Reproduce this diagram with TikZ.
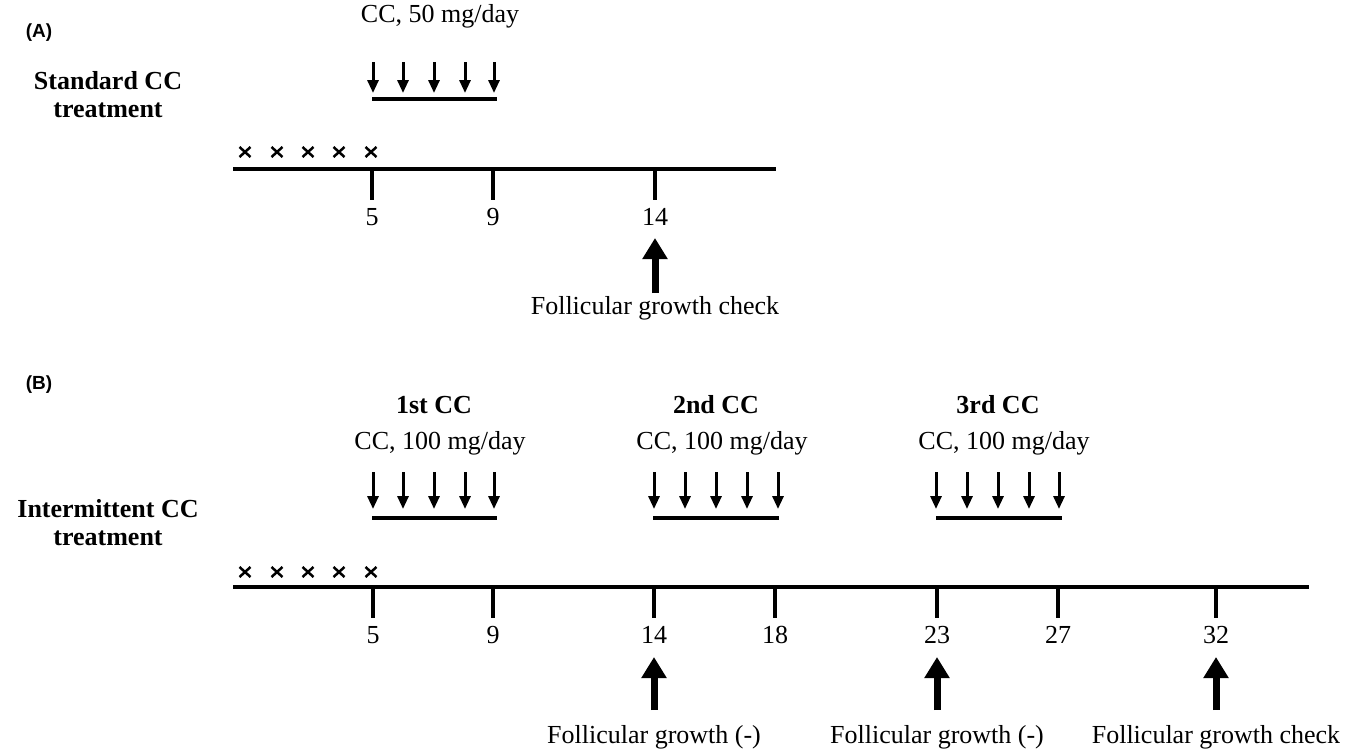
\documentclass[tikz,border=0pt]{standalone}
\usepackage{fontspec}
\setmainfont{Liberation Serif}
\setsansfont{Liberation Sans}
\usetikzlibrary{arrows.meta}
\begin{document}
\begin{tikzpicture}[x=1pt,y=-1pt,
  lbl/.style={font=\fontsize{26}{30}\selectfont, inner sep=0pt},
  blbl/.style={font=\fontsize{26}{30}\selectfont\bfseries, inner sep=0pt, align=center},
  panel/.style={font=\fontsize{19}{22}\selectfont\sffamily\bfseries, inner sep=0pt},
  tline/.style={line width=4.5pt},
  tickline/.style={line width=4pt},
  barline/.style={line width=4pt},
  dosearrow/.style={line width=3pt, -{Triangle[length=13pt,width=11pt]}},
  checkarrow/.style={line width=7pt, -{Triangle[length=21pt,width=24pt]}},
  cross/.style={line width=2.5pt}
]
\useasboundingbox[fill=white] (0,0) rectangle (1362,750);

% ---------------- Panel A ----------------
\node[panel] (pA) at (39,33) {(A)};
\node[blbl] (sA) at (108,95) {Standard CC\\[-2pt]treatment};
\node[lbl] (doseA) at (440,16) {CC, 50 mg/day};
\foreach \x [count=\i] in {373,403,434,465,494} {
  \coordinate (dAs\i) at (\x,62);
  \coordinate (dAe\i) at (\x,93);
  \draw[dosearrow] (dAs\i) -- (dAe\i);
}
\coordinate (barAs) at (372,99);
\coordinate (barAe) at (497,99);
\draw[barline] (barAs) -- (barAe);
\foreach \x [count=\i] in {245,277,308,339,371} {
  \draw[cross] (\x-5.5,147) -- (\x+5.5,157);
  \draw[cross] (\x-5.5,157) -- (\x+5.5,147);
}
\coordinate (tAs) at (233,169);
\coordinate (tAe) at (776,169);
\draw[tline] (tAs) -- (tAe);
\foreach \x/\n in {372/5,493/9,655/14} {
  \coordinate (kA\n) at (\x,169);
  \coordinate (kAb\n) at (\x,200);
  \draw[tickline] (kA\n) -- (kAb\n);
  \node[lbl] (nA\n) at (\x,217) {\n};
}
\coordinate (uAs) at (655,293);
\coordinate (uAe) at (655,238);
\draw[checkarrow] (uAs) -- (uAe);
\node[lbl] (fA) at (655,308) {Follicular growth check};

% ---------------- Panel B ----------------
\node[panel] (pB) at (39,385) {(B)};
\node[blbl] (sB) at (108,523) {Intermittent CC\\[-2pt]treatment};
\foreach \c/\d/\t in {434/440/1st, 716/722/2nd, 998/1004/3rd} {
  \node[blbl] (h\t) at (\c,405) {\t\ CC};
  \node[lbl] (dose\t) at (\d,443) {CC, 100 mg/day};
}
\foreach \x [count=\i] in {373,403,434,465,494, 654,685,716,747,778, 936,967,998,1029,1059} {
  \coordinate (dBs\i) at (\x,472);
  \coordinate (dBe\i) at (\x,509);
  \draw[dosearrow] (dBs\i) -- (dBe\i);
}
\foreach \a/\b [count=\i] in {372/497, 653/779, 936/1062} {
  \coordinate (barBs\i) at (\a,518);
  \coordinate (barBe\i) at (\b,518);
  \draw[barline] (barBs\i) -- (barBe\i);
}
\foreach \x in {245,277,308,339,371} {
  \draw[cross] (\x-5.5,567) -- (\x+5.5,577);
  \draw[cross] (\x-5.5,577) -- (\x+5.5,567);
}
\coordinate (tBs) at (233,587);
\coordinate (tBe) at (1309,587);
\draw[tline] (tBs) -- (tBe);
\foreach \x/\n in {373/5,493/9,654/14,775/18,937/23,1058/27,1216/32} {
  \coordinate (kB\n) at (\x,587);
  \coordinate (kBb\n) at (\x,618);
  \draw[tickline] (kB\n) -- (kBb\n);
  \node[lbl] (nB\n) at (\x,635) {\n};
}
\foreach \x/\n/\txt in {654/14/Follicular growth (-), 937/23/Follicular growth (-), 1216/32/Follicular growth check} {
  \coordinate (uBs\n) at (\x,710);
  \coordinate (uBe\n) at (\x,657);
  \draw[checkarrow] (uBs\n) -- (uBe\n);
  \node[lbl] (fB\n) at (\x,737) {\txt};
}
\end{tikzpicture}
\end{document}
